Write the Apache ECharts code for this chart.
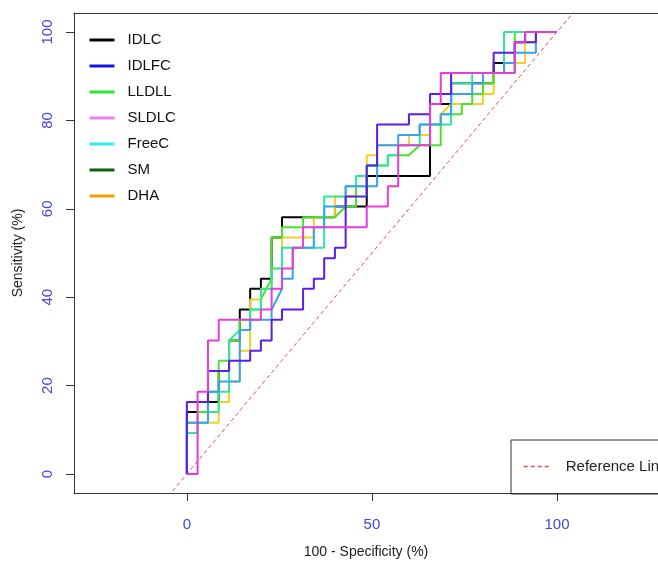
<!DOCTYPE html>
<html><head><meta charset="utf-8">
<script src="https://cdn.jsdelivr.net/npm/echarts@6/dist/echarts.min.js"></script>
<style>html,body{margin:0;padding:0;background:#fff;}#c{width:658px;height:567px;}</style>
</head><body><div id="c"></div>
<script>
// Legend order and colours
const seriesNames = ['IDLC','IDLFC','LLDLL','SLDLC','FreeC','SM','DHA'];
const legendColors = ['#000000','#1414e6','#2ee62e','#ee82ee','#36eaea','#0a620a','#f5a300'];
const lineColors  = ['#000000','#5a1ee6','#4ce22c','#e63cdc','#38a2f0','#30e69c','#f2d024'];
const drawOrder = ['IDLC','DHA','LLDLL','SM','FreeC','IDLFC','SLDLC'];

// ROC vertices: x = 100 - Specificity (%), y = Sensitivity (%)
const idlcX  = [0,0,5.7,5.7,8.6,8.6,11.4,11.4,14.3,14.3,17.1,17.1,20,20,22.9,22.9,25.7,25.7,40,40,48.6,48.6,65.7,65.7,71.4,71.4,82.9,82.9,88.6,88.6,91.4,91.4,100];
const idlcY  = [0,14,14,16.3,16.3,23.3,23.3,30.2,30.2,37.2,37.2,41.9,41.9,44.2,44.2,53.5,53.5,58.1,58.1,60.5,60.5,67.4,67.4,83.7,83.7,88.4,88.4,93,93,97.7,97.7,100,100];
const idlfcX = [0,0,5.7,5.7,11.4,11.4,17.1,17.1,20,20,22.9,22.9,25.7,25.7,31.4,31.4,34.3,34.3,37.1,37.1,40,40,42.9,42.9,48.6,48.6,51.4,51.4,60,60,65.7,65.7,71.4,71.4,82.9,82.9,88.6,88.6,94.3,94.3,100];
const idlfcY = [0,16.3,16.3,23.3,23.3,25.6,25.6,27.9,27.9,30.2,30.2,34.9,34.9,37.2,37.2,41.9,41.9,44.2,44.2,48.8,48.8,51.2,51.2,62.8,62.8,69.8,69.8,79.1,79.1,81.4,81.4,86,86,90.7,90.7,95.3,95.3,97.7,97.7,100,100];
const lldllX = [0,0,2.9,2.9,5.7,5.7,8.6,8.6,11.4,11.4,14.3,14.3,17.1,17.1,20,20,22.9,22.9,25.7,25.7,31.4,31.4,40,42.9,45.7,45.7,48.6,48.6,54.3,54.3,60,62.9,68.6,68.6,74.3,74.3,77.1,77.1,80,80,82.9,82.9,88.6,88.6,100];
const lldllY = [0,11.6,11.6,14,14,18.6,18.6,25.6,25.6,30.2,30.2,34.9,34.9,37.2,37.2,39.5,44.2,53.5,53.5,55.8,55.8,58.1,58.1,60.5,60.5,65.1,65.1,69.8,69.8,72.1,72.1,74.4,74.4,81.4,81.4,83.7,83.7,86,86,88.4,88.4,90.7,90.7,100,100];
const sldlcX = [0,2.9,2.9,5.7,5.7,8.6,8.6,20,20,22.9,22.9,25.7,25.7,28.6,28.6,31.4,31.4,48.6,48.6,54.3,54.3,57.1,57.1,65.7,65.7,68.6,68.6,88.6,88.6,91.4,91.4,100];
const sldlcY = [0,0,18.6,18.6,30.2,30.2,34.9,34.9,37.2,37.2,41.9,41.9,46.5,46.5,51.2,51.2,55.8,55.8,60.5,60.5,65.1,65.1,74.4,74.4,83.7,83.7,90.7,90.7,97.7,97.7,100,100];
const freecX = [0,0,5.7,5.7,8.6,8.6,14.3,14.3,17.1,17.1,22.9,22.9,25.7,25.7,28.6,28.6,34.3,34.3,37.1,37.1,42.9,42.9,51.4,51.4,57.1,57.1,62.9,62.9,68.6,68.6,71.4,71.4,77.1,77.1,80,80,85.7,85.7,88.6,88.6,94.3,94.3,100];
const freecY = [0,11.6,11.6,18.6,18.6,20.9,20.9,32.6,32.6,34.9,34.9,37.2,41.9,44.2,44.2,51.2,51.2,55.8,55.8,60.5,60.5,65.1,65.1,74.4,74.4,76.7,76.7,79.1,79.1,81.4,81.4,86,86,88.4,88.4,90.7,90.7,93,93,95.3,95.3,100,100];
const smX    = [0,0,2.9,2.9,5.7,5.7,8.6,8.6,11.4,11.4,14.3,17.1,17.1,20,20,22.9,22.9,25.7,25.7,37.1,37.1,42.9,42.9,45.7,45.7,48.6,48.6,54.3,54.3,57.1,57.1,62.9,62.9,71.4,71.4,77.1,77.1,85.7,85.7,100];
const smY    = [0,9.3,9.3,11.6,11.6,14,14,18.6,18.6,30.2,32.6,32.6,37.2,37.2,41.9,41.9,46.5,46.5,51.2,51.2,62.8,62.8,65.1,65.1,67.4,67.4,69.8,69.8,72.1,72.1,74.4,74.4,79.1,79.1,88.4,88.4,90.7,90.7,100,100];
const dhaX   = [0,0,2.9,2.9,8.6,8.6,11.4,11.4,14.3,14.3,17.1,17.1,20,20,22.9,22.9,25.7,25.7,34.3,34.3,40,40,45.7,45.7,48.6,48.6,51.4,51.4,60,60,65.7,65.7,68.6,68.6,71.4,80,80,82.9,82.9,88.6,88.6,91.4,91.4,94.3,94.3,100];
const dhaY   = [0,9.3,9.3,11.6,11.6,16.3,16.3,20.9,20.9,27.9,27.9,39.5,39.5,41.9,41.9,46.5,46.5,53.5,53.5,58.1,58.1,62.8,62.8,67.4,67.4,72.1,72.1,74.4,74.4,76.7,76.7,79.1,79.1,81.4,83.7,83.7,86,86,90.7,90.7,93,93,97.7,97.7,100,100];

const refX = [-50, 150];
const refY = [-50, 150];
const xTicks = [0, 50, 100];
const yTicks = [0, 20, 40, 60, 80, 100];

const curveData = {
  IDLC: [idlcX, idlcY], IDLFC: [idlfcX, idlfcY], LLDLL: [lldllX, lldllY],
  SLDLC: [sldlcX, sldlcY], FreeC: [freecX, freecY], SM: [smX, smY], DHA: [dhaX, dhaY]
};
const pairs = (xs, ys) => xs.map((x, k) => [x, ys[k]]);

const FONT = "'Liberation Sans', Arial, sans-serif";
const series = [{
  name: 'Reference Line', type: 'line', data: pairs(refX, refY),
  symbol: 'none', silent: true, clip: true,
  lineStyle: { color: '#e05050', width: 1, type: [4, 3] }, itemStyle: { color: '#e05050' }, z: 1
}];
drawOrder.forEach(n => {
  const idx = seriesNames.indexOf(n);
  series.push({
    name: n, type: 'line', data: pairs(curveData[n][0], curveData[n][1]),
    symbol: 'none', silent: true, clip: true, animation: false,
    lineStyle: { color: lineColors[idx], width: 2 }, itemStyle: { color: lineColors[idx] }, z: 2
  });
});

const chart = echarts.init(document.getElementById('c'), null, { renderer: 'canvas' });
chart.setOption({
  animation: false,
  backgroundColor: '#ffffff',
  grid: { left: 74, top: 13, right: 0, bottom: 74, show: false },
  xAxis: [{
    type: 'value', min: -30.5, max: 127.3, position: 'bottom',
    name: '100 - Specificity (%)', nameLocation: 'middle', nameGap: 52,
    nameTextStyle: { color: '#222', fontSize: 14, fontFamily: FONT },
    axisLine: { show: true, onZero: false, lineStyle: { color: '#333', width: 1 } },
    splitLine: { show: false },
    axisTick: { show: true, inside: false, length: 8, customValues: xTicks, lineStyle: { color: '#333' } },
    axisLabel: { color: '#4545e8', fontSize: 15, fontFamily: FONT, margin: 24, customValues: xTicks }
  }, {
    type: 'value', min: -30.5, max: 127.3, position: 'top',
    axisLine: { show: true, onZero: false, lineStyle: { color: '#333', width: 1 } },
    axisTick: { show: false }, axisLabel: { show: false }, splitLine: { show: false }
  }],
  yAxis: {
    type: 'value', min: -4.3, max: 104.3,
    name: 'Sensitivity (%)', nameLocation: 'middle', nameGap: 49, nameRotate: 90,
    nameTextStyle: { color: '#222', fontSize: 14, fontFamily: FONT },
    axisLine: { show: true, onZero: false, lineStyle: { color: '#333', width: 1 } },
    splitLine: { show: false },
    axisTick: { show: true, inside: false, length: 8, customValues: yTicks, lineStyle: { color: '#333' } },
    axisLabel: { color: '#4545e8', fontSize: 15, fontFamily: FONT, margin: 19, rotate: 90, customValues: yTicks }
  },
  legend: [{
    orient: 'vertical', left: 88, top: 32, padding: 0, itemGap: 10,
    itemWidth: 25, itemHeight: 16, selectedMode: false,
    textStyle: { color: '#111', fontSize: 15, fontFamily: FONT, lineHeight: 16, padding: [0, 0, 0, 8] },
    data: seriesNames.map((n, k) => ({
      name: n,
      itemStyle: { color: legendColors[k], opacity: 0 },
      lineStyle: { color: legendColors[k], width: 3 }
    }))
  }, {
    orient: 'vertical', left: 511, top: 440, selectedMode: false,
    padding: [19, 20, 20, 12], borderColor: '#333', borderWidth: 1,
    itemWidth: 27, itemHeight: 15,
    textStyle: { color: '#222', fontSize: 15, fontFamily: FONT, padding: [0, 0, 0, 10] },
    data: [{ name: 'Reference Line', itemStyle: { opacity: 0 }, lineStyle: { color: '#e05050', width: 1.5, type: [4, 3] } }]
  }],
  series: series
});
</script></body></html>
